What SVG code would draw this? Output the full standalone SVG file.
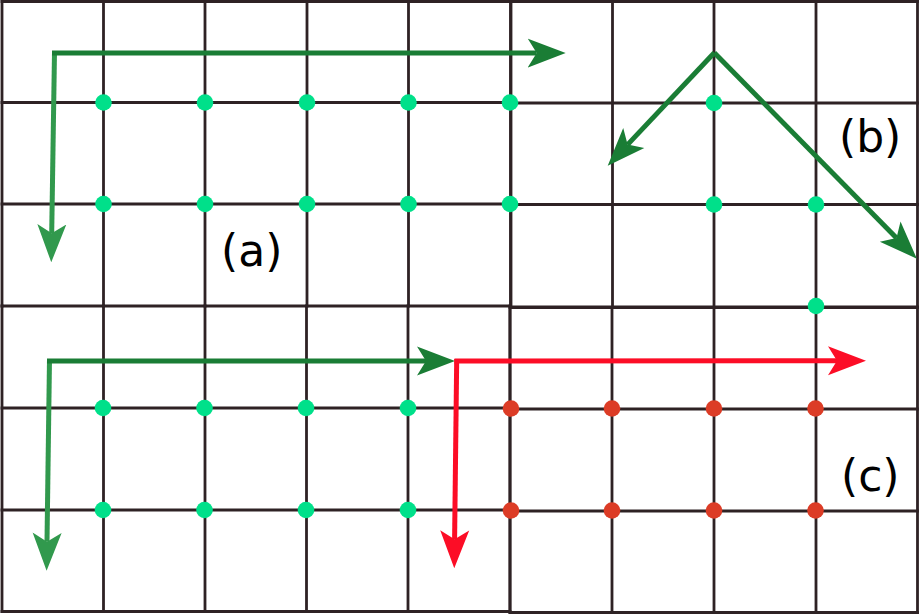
<svg xmlns="http://www.w3.org/2000/svg" width="919" height="614" viewBox="0 0 919 614">
<style>
.grid line{stroke:#2e2224;stroke-width:2.8;stroke-linecap:square}
.g{fill:#00e08a}
.r{fill:#dc3c26}
.lbl{font-family:"DejaVu Sans",sans-serif;font-size:44px;fill:#000}
.dk{stroke:#1a7d35;stroke-width:5;fill:none}
.lt{stroke:#31994d;stroke-width:5;fill:none}
.rd{stroke:#fc0d26;stroke-width:5;fill:none}
</style>
<defs>
<marker id="mDk" markerUnits="userSpaceOnUse" viewBox="0 -16 42 32" markerWidth="42" markerHeight="32" refX="9" refY="0" orient="auto"><path d="M0,-14.5 L38,0 L0,14.5 L9,0 Z" fill="#1a7d35"/></marker>
<marker id="mLt" markerUnits="userSpaceOnUse" viewBox="0 -16 42 32" markerWidth="42" markerHeight="32" refX="9" refY="0" orient="auto"><path d="M0,-14.5 L38,0 L0,14.5 L9,0 Z" fill="#31994d"/></marker>
<marker id="mRd" markerUnits="userSpaceOnUse" viewBox="0 -16 42 32" markerWidth="42" markerHeight="32" refX="9" refY="0" orient="auto"><path d="M0,-14.5 L38,0 L0,14.5 L9,0 Z" fill="#fc0d26"/></marker>
</defs>
<rect width="919" height="614" fill="#fff"/>
<g id="grid" class="grid">
<g id="grid-a">
<line x1="2" y1="1.5" x2="2" y2="306"/><line x1="103.5" y1="1.5" x2="103.5" y2="306"/><line x1="205" y1="1.5" x2="205" y2="306"/><line x1="307" y1="1.5" x2="307" y2="306"/><line x1="408.5" y1="1.5" x2="408.5" y2="306"/><line x1="510.5" y1="1.5" x2="510.5" y2="306"/>
<line x1="2" y1="1.5" x2="510.5" y2="1.5"/><line x1="2" y1="102.5" x2="510.5" y2="102.5"/><line x1="2" y1="204" x2="510.5" y2="204"/><line x1="2" y1="306" x2="510.5" y2="306"/>
</g>
<g id="grid-b">
<line x1="511" y1="1.5" x2="511" y2="307"/><line x1="612.5" y1="1.5" x2="612.5" y2="307"/><line x1="714" y1="1.5" x2="714" y2="307"/><line x1="816" y1="1.5" x2="816" y2="307"/><line x1="917.5" y1="1.5" x2="917.5" y2="307"/>
<line x1="511" y1="1.5" x2="917.5" y2="1.5"/><line x1="511" y1="103" x2="917.5" y2="103"/><line x1="511" y1="204.5" x2="917.5" y2="204.5"/><line x1="511" y1="307" x2="917.5" y2="307"/>
</g>
<g id="grid-c-left">
<line x1="2" y1="306" x2="2" y2="611.5"/><line x1="103.5" y1="306" x2="103.5" y2="611.5"/><line x1="205" y1="306" x2="205" y2="611.5"/><line x1="306.5" y1="306" x2="306.5" y2="611.5"/><line x1="408" y1="306" x2="408" y2="611.5"/><line x1="510" y1="306" x2="510" y2="611.5"/>
<line x1="2" y1="408" x2="510" y2="408"/><line x1="2" y1="510" x2="510" y2="510"/><line x1="2" y1="611.5" x2="510" y2="611.5"/>
</g>
<g id="grid-c-right">
<line x1="510" y1="307.5" x2="510" y2="612.5"/><line x1="612" y1="307.5" x2="612" y2="612.5"/><line x1="714" y1="307.5" x2="714" y2="612.5"/><line x1="816" y1="307.5" x2="816" y2="612.5"/><line x1="917.5" y1="307.5" x2="917.5" y2="612.5"/>
<line x1="510" y1="307.5" x2="917.5" y2="307.5"/><line x1="510" y1="409" x2="917.5" y2="409"/><line x1="510" y1="511" x2="917.5" y2="511"/><line x1="510" y1="612.5" x2="917.5" y2="612.5"/>
</g>
</g>
<g id="dots">
<g id="dots-a" class="g">
<circle cx="103.5" cy="102.5" r="8.3"/><circle cx="205" cy="102.5" r="8.3"/><circle cx="307" cy="102.5" r="8.3"/><circle cx="408.5" cy="102.5" r="8.3"/><circle cx="510" cy="102.5" r="8.3"/>
<circle cx="103.5" cy="204" r="8.3"/><circle cx="205" cy="204" r="8.3"/><circle cx="307" cy="204" r="8.3"/><circle cx="408.5" cy="204" r="8.3"/><circle cx="510" cy="204" r="8.3"/>
</g>
<g id="dots-b" class="g">
<circle cx="714" cy="103" r="8.3"/><circle cx="714" cy="204.5" r="8.3"/><circle cx="816" cy="204.5" r="8.3"/><circle cx="816" cy="306" r="8.3"/>
</g>
<g id="dots-c-green" class="g">
<circle cx="103" cy="408" r="8.3"/><circle cx="204.5" cy="408" r="8.3"/><circle cx="306" cy="408" r="8.3"/><circle cx="408" cy="408" r="8.3"/>
<circle cx="103" cy="510" r="8.3"/><circle cx="204.5" cy="510" r="8.3"/><circle cx="306" cy="510" r="8.3"/><circle cx="408" cy="510" r="8.3"/>
</g>
<g id="dots-c-red" class="r">
<circle cx="511" cy="408.5" r="8.3"/><circle cx="612" cy="408.5" r="8.3"/><circle cx="714" cy="408.5" r="8.3"/><circle cx="815.5" cy="408.5" r="8.3"/>
<circle cx="511" cy="510.5" r="8.3"/><circle cx="612" cy="510.5" r="8.3"/><circle cx="714" cy="510.5" r="8.3"/><circle cx="815.5" cy="510.5" r="8.3"/>
</g>
</g>
<g id="connectors">
<line class="lt" x1="54.5" y1="52" x2="51.7" y2="233.3" marker-end="url(#mLt)"/>
<line class="dk" x1="52" y1="53" x2="536.7" y2="53.1" marker-end="url(#mDk)"/>
<line class="dk" x1="714.3" y1="52.7" x2="627.6" y2="144.6" marker-end="url(#mDk)"/>
<line class="dk" x1="714.3" y1="52.7" x2="896.5" y2="238" marker-end="url(#mDk)"/>
<line class="lt" x1="49.5" y1="359" x2="47" y2="541.7" marker-end="url(#mLt)"/>
<line class="dk" x1="47" y1="361" x2="426" y2="361" marker-end="url(#mDk)"/>
<line class="rd" x1="456.7" y1="359" x2="454.6" y2="539.3" marker-end="url(#mRd)"/>
<line class="rd" x1="454.5" y1="361" x2="837" y2="360.7" marker-end="url(#mRd)"/>
</g>
<g id="labels">
<text class="lbl" x="221" y="266">(a)</text>
<text class="lbl" x="839" y="151.5">(b)</text>
<text class="lbl" x="841" y="491">(c)</text>
</g>
</svg>
